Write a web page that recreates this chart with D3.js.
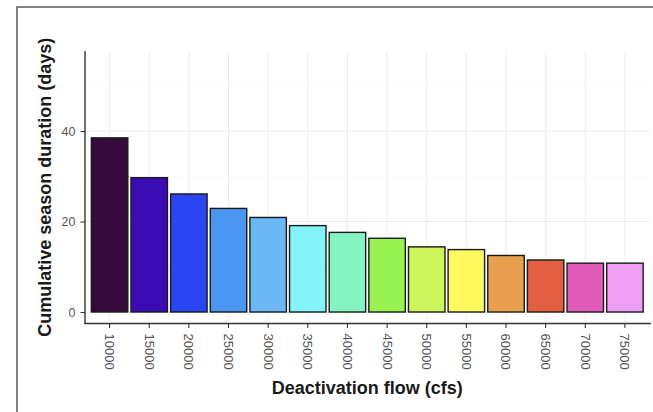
<!DOCTYPE html>
<html>
<head>
<meta charset="utf-8">
<script src="https://cdn.jsdelivr.net/npm/d3@7"></script>
<style>
  html, body { margin: 0; padding: 0; background: #fff; }
  svg { display: block; }
</style>
</head>
<body>
<svg id="chart" width="653" height="412"></svg>
<script>
const categories = ["10000","15000","20000","25000","30000","35000","40000","45000","50000","55000","60000","65000","70000","75000"];
const values = [38.5, 29.7, 26.1, 22.9, 20.9, 19.1, 17.6, 16.3, 14.4, 13.8, 12.5, 11.5, 10.8, 10.8];
const colors = ["#330a3a","#3b0cb4","#2a46f2","#4b96f0","#6ab8f5","#82f4f8","#84f5c2","#9af252","#cdf55c","#fdf95e","#e8a04e","#e45f42","#e05cb8","#ee9ef5"];
const yTicks = [0, 20, 40];
const yLabel = "Cumulative season duration (days)";
const xLabel = "Deactivation flow (cfs)";

const svg = d3.select("#chart");
const W = 653, H = 412;
const panel = { left: 85, right: 649.5, top: 51, bottom: 323.5 };
const font = "Liberation Sans, Arial, sans-serif";

// outer frame
svg.append("rect")
  .attr("x", 17).attr("y", 7).attr("width", W).attr("height", H)
  .attr("fill", "none").attr("stroke", "#5a5a5a").attr("stroke-width", 1.5);

const y = d3.scaleLinear().domain([-2.54, 57.7]).range([panel.bottom, panel.top]);
const x = d3.scaleBand().domain(categories)
  .range([panel.left, panel.right]).paddingInner(0.08).paddingOuter(0.16);

// grid
const g = svg.append("g");
g.selectAll(".vg").data(categories).join("line")
  .attr("x1", d => x(d) + x.bandwidth()/2).attr("x2", d => x(d) + x.bandwidth()/2)
  .attr("y1", panel.top).attr("y2", panel.bottom)
  .attr("stroke", "#ececec").attr("stroke-width", 1);
g.selectAll(".hgm").data([10, 30, 50]).join("line")
  .attr("x1", panel.left).attr("x2", panel.right)
  .attr("y1", d => y(d)).attr("y2", d => y(d))
  .attr("stroke", "#f6f6f6").attr("stroke-width", 0.6);
g.selectAll(".hg").data(yTicks).join("line")
  .attr("x1", panel.left).attr("x2", panel.right)
  .attr("y1", d => y(d)).attr("y2", d => y(d))
  .attr("stroke", "#ececec").attr("stroke-width", 1);

// bars
svg.append("g").selectAll("rect").data(categories).join("rect")
  .attr("x", d => x(d))
  .attr("width", x.bandwidth())
  .attr("y", (d, i) => y(values[i]))
  .attr("height", (d, i) => y(0) - y(values[i]))
  .attr("fill", (d, i) => colors[i])
  .attr("stroke", "#1a1a1a").attr("stroke-width", 1.4);

// axes
const yAxis = d3.axisLeft(y).tickValues(yTicks).tickSize(4.5).tickPadding(5);
const ya = svg.append("g").attr("transform", `translate(${panel.left},0)`).call(yAxis);
ya.select(".domain").remove();
ya.selectAll(".tick line").attr("stroke", "#333").attr("stroke-width", 1.1);
ya.selectAll(".tick text").attr("fill", "#555").attr("font-size", 12.5)
  .attr("font-family", font);

const xAxis = d3.axisBottom(x).tickSize(4.5).tickPadding(3);
const xa = svg.append("g").attr("transform", `translate(0,${panel.bottom})`).call(xAxis);
xa.select(".domain").remove();
xa.selectAll(".tick line").attr("stroke", "#333").attr("stroke-width", 1.1);
xa.selectAll(".tick text")
  .attr("fill", "#555").attr("font-size", 13)
  .attr("font-family", font)
  .attr("transform", "rotate(90)")
  .attr("text-anchor", "start")
  .attr("dy", "0.35em").attr("x", 10).attr("y", 0);

// axis lines
svg.append("line").attr("x1", panel.left).attr("x2", panel.left)
  .attr("y1", panel.top).attr("y2", panel.bottom + 0.6)
  .attr("stroke", "#333").attr("stroke-width", 1.4);
svg.append("line").attr("x1", panel.left - 0.6).attr("x2", 651)
  .attr("y1", panel.bottom).attr("y2", panel.bottom)
  .attr("stroke", "#333").attr("stroke-width", 1.4);

// titles
svg.append("text")
  .attr("transform", `translate(51,${(panel.top + panel.bottom)/2}) rotate(-90)`)
  .attr("text-anchor", "middle")
  .attr("font-family", font)
  .attr("font-weight", "bold").attr("font-size", 18).attr("fill", "#1a1a1a")
  .text(yLabel);
svg.append("text")
  .attr("x", (panel.left + panel.right)/2).attr("y", 394)
  .attr("text-anchor", "middle")
  .attr("font-family", font)
  .attr("font-weight", "bold").attr("font-size", 18).attr("fill", "#1a1a1a")
  .text(xLabel);
</script>
</body>
</html>
